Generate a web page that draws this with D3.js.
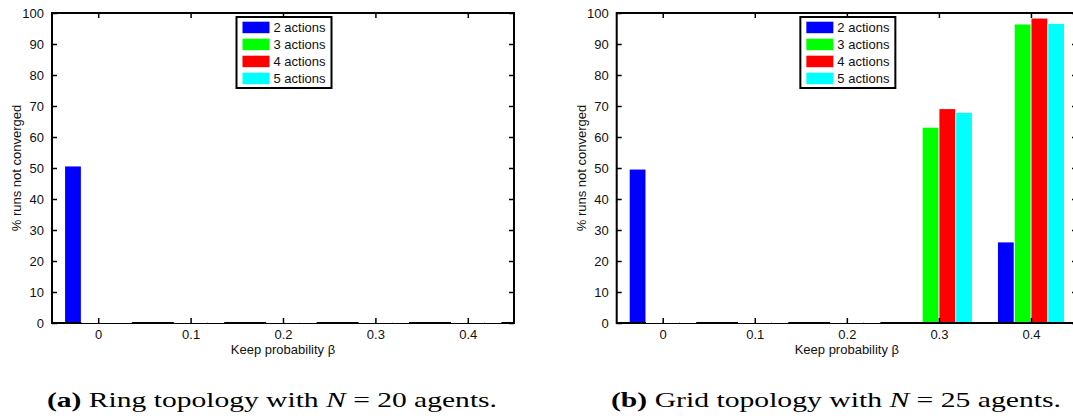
<!DOCTYPE html>
<html>
<head>
<meta charset="utf-8">
<script src="https://cdn.jsdelivr.net/npm/d3@7"></script>
<style>
  html, body { margin: 0; padding: 0; background: #fff; }
  svg { display: block; }
</style>
</head>
<body>
<svg id="chart" width="1073" height="419"></svg>
<script>
// ---- data ----
const categories = [0, 0.1, 0.2, 0.3, 0.4];
const seriesNames = ["2 actions", "3 actions", "4 actions", "5 actions"];
const seriesColors = ["#0000ff", "#00ff00", "#ff0000", "#00ffff"];
// ring topology, N = 20
const ringValues = [
  [50.5, 0, 0, 0, 0],   // 2 actions
  [0, 0, 0, 0, 0],      // 3 actions
  [0, 0, 0, 0, 0],      // 4 actions
  [0, 0, 0, 0, 0]       // 5 actions
];
// grid topology, N = 25
const gridValues = [
  [49.5, 0, 0, 0, 26],
  [0, 0, 0, 63, 96.3],
  [0, 0, 0, 69, 98.2],
  [0, 0, 0, 67.8, 96.5]
];
const yTicks = [0, 10, 20, 30, 40, 50, 60, 70, 80, 90, 100];
const xTicks = [0, 0.1, 0.2, 0.3, 0.4];
const xLabel = "Keep probability \u03b2";
const yLabel = "% runs not converged";

const svg = d3.select("#chart");
const FONT = "'Liberation Sans', Arial, Helvetica, sans-serif";

function drawPanel(left, right, values) {
  const top = 13, bottom = 323;
  const x = d3.scaleLinear().domain([-0.05, 0.45]).range([left, right]);
  const y = d3.scaleLinear().domain([0, 100]).range([bottom, top]);
  const slot = 0.0182;
  const g = svg.append("g");

  // bars
  values.forEach((vals, s) => {
    vals.forEach((v, i) => {
      const cx = categories[i] + (s - 1.5) * slot;
      const xa = x(cx - slot / 2), xb = x(cx + slot / 2);
      if (v > 0) {
        g.append("rect")
          .attr("x", xa + 0.5).attr("width", xb - xa - 1)
          .attr("y", y(v)).attr("height", y(0) - y(v))
          .attr("fill", seriesColors[s]);
      }
    });
  });

  // box
  g.append("rect").attr("x", left).attr("y", top)
    .attr("width", right - left).attr("height", bottom - top)
    .attr("fill", "none").attr("stroke", "#000").attr("stroke-width", 2);

  // zero-height bars drawn over the baseline
  values.forEach((vals, s) => {
    if (s === 0) return;
    vals.forEach((v, i) => {
      if (v === 0) {
        const cx = categories[i] + (s - 1.5) * slot;
        const xa = x(cx - slot / 2), xb = x(cx + slot / 2);
        g.append("rect").attr("x", xa).attr("width", xb - xa)
          .attr("y", bottom - 1).attr("height", 1).attr("fill", "#fff");
      }
    });
  });

  // y axis (left) ticks + labels
  const yAxis = d3.axisLeft(y).tickValues(yTicks).tickSize(-5).tickPadding(8)
    .tickFormat(d3.format("d"));
  const ya = g.append("g").attr("transform", `translate(${left},0)`).call(yAxis);
  ya.select(".domain").remove();
  ya.selectAll("line").attr("stroke", "#000").attr("stroke-width", 1.5);
  ya.selectAll("text").attr("font-family", FONT).attr("font-size", 13).attr("fill", "#111");

  // right ticks
  const yAxisR = d3.axisRight(y).tickValues(yTicks).tickSize(-5).tickFormat("");
  const yr = g.append("g").attr("transform", `translate(${right},0)`).call(yAxisR);
  yr.select(".domain").remove();
  yr.selectAll("line").attr("stroke", "#000").attr("stroke-width", 1.5);

  // x axis bottom
  const xAxis = d3.axisBottom(x).tickValues(xTicks).tickSize(-5).tickPadding(7)
    .tickFormat(d => d === 0 ? "0" : d3.format(".1f")(d));
  const xa = g.append("g").attr("transform", `translate(0,${bottom})`).call(xAxis);
  xa.select(".domain").remove();
  xa.selectAll("line").attr("stroke", "#000").attr("stroke-width", 1.5);
  xa.selectAll("text").attr("font-family", FONT).attr("font-size", 13).attr("fill", "#111");

  // x axis top ticks
  const xAxisT = d3.axisTop(x).tickValues(xTicks).tickSize(-5).tickFormat("");
  const xt = g.append("g").attr("transform", `translate(0,${top})`).call(xAxisT);
  xt.select(".domain").remove();
  xt.selectAll("line").attr("stroke", "#000").attr("stroke-width", 1.5);

  // axis labels
  g.append("text").attr("x", (left + right) / 2).attr("y", 354)
    .attr("text-anchor", "middle").attr("font-family", FONT).attr("font-size", 13)
    .attr("fill", "#111").text(xLabel);
  g.append("text")
    .attr("transform", `translate(${left - 31},${(top + bottom) / 2}) rotate(-90)`)
    .attr("text-anchor", "middle").attr("font-family", FONT).attr("font-size", 13)
    .attr("fill", "#111").text(yLabel);

  // legend
  const lw = 95, lh = 71;
  const lx = (left + Math.min(right, 1077)) / 2 - lw / 2 + 1, ly = 17;
  const lg = g.append("g").attr("transform", `translate(${lx},${ly})`);
  lg.append("rect").attr("width", lw).attr("height", lh)
    .attr("fill", "#fff").attr("stroke", "#000").attr("stroke-width", 2);
  seriesNames.forEach((name, s) => {
    const ry = 4.7 + s * 17;
    lg.append("rect").attr("x", 6).attr("y", ry).attr("width", 27).attr("height", 11.5)
      .attr("fill", seriesColors[s]);
    lg.append("text").attr("x", 37).attr("y", ry + 10.5)
      .attr("font-family", FONT).attr("font-size", 13).attr("fill", "#111").text(name);
  });
}

drawPanel(52, 514, ringValues);
drawPanel(616.7, 1077, gridValues);

// captions
function caption(cx, tag, pre, num) {
  const t = svg.append("text").attr("x", cx).attr("y", 407)
    .attr("text-anchor", "middle")
    .attr("font-family", "'Liberation Serif', 'Times New Roman', serif")
    .attr("font-size", 22).attr("fill", "#000")
    .attr("textLength", 450).attr("lengthAdjust", "spacingAndGlyphs");
  t.append("tspan").attr("font-weight", "bold").text(tag);
  t.append("tspan").text(" " + pre + " ");
  t.append("tspan").attr("font-style", "italic").text("N");
  t.append("tspan").text(" = " + num + " agents.");
}
caption(272, "(a)", "Ring topology with", "20");
caption(836, "(b)", "Grid topology with", "25");
</script>
</body>
</html>
